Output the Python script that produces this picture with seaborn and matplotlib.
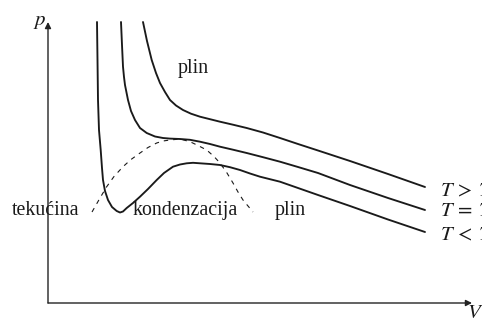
import matplotlib
matplotlib.use("Agg")
import matplotlib.pyplot as plt
import seaborn as sns
import pandas as pd

# Van der Waals isotherms on a p-V diagram (arbitrary units, origin at the axes corner)
v_below = [49, 49.5, 50, 51, 52.7, 54, 55, 57, 60, 64, 68.7, 72, 75, 78.7, 85, 92,
           100, 108.7, 116, 125, 132, 138.7, 145, 152, 162, 172, 182, 192, 202, 212,
           222, 232, 250, 270, 302, 340, 377]
p_below = [281, 243, 203, 173, 153, 135, 123, 112, 103, 96, 92, 90.5, 91.5, 95, 100, 106.3,
           114, 123, 130, 136.3, 138.5, 139.7, 140.2, 139.7, 139, 138, 135.8, 133, 129.5, 126.3,
           123.8, 121.3, 115, 108, 97, 83.5, 71]

v_crit = [73, 74, 75, 76, 77, 80, 83, 87, 92, 98.7, 107, 115, 122, 132, 142, 152, 162,
          172, 185, 198.7, 215, 232, 250, 270, 302, 340, 377]
p_crit = [281, 258, 236.3, 226, 218, 203, 192, 183, 175, 170, 166.5, 165, 164.4, 164, 163.2,
          161.3, 159, 156.3, 153.3, 150, 145.8, 141.3, 136, 130, 118, 105, 93]

v_above = [95, 99, 103.7, 108, 112, 117, 122, 128, 135, 143, 152, 162, 172, 185, 198.7,
           215, 232, 250, 270, 302, 340, 377]
p_above = [281, 262, 243, 230, 220, 211, 203, 197.5, 193, 189.3, 186.3, 183.8, 181.3, 178.3,
           175, 170.5, 165, 159, 152.5, 142, 129, 116]

# Coexistence (saturation) dome
v_dome = [44, 52, 58.7, 66, 75, 83, 92, 100, 108.7, 115, 122, 132, 142, 150, 158.7, 166,
          172, 179, 185, 190, 195, 200, 205]
p_dome = [91, 105, 116.3, 126.5, 136.3, 143.5, 150, 155.5, 160, 162, 163, 164, 161.3, 157.5,
          153, 146.5, 140, 130, 120, 111, 103, 97, 91]

curve_labels = [r"$T\:>\:T_k$", r"$T\:=\:T_k$", r"$T\:<\:T_k$"]
region_labels = ["tekućina", "kondenzacija", "plin", "plin"]

plt.rcParams["mathtext.fontset"] = "stix"
sns.set_style("white")
plt.rcParams["font.family"] = ["Liberation Serif", "DejaVu Serif"]

fig = plt.figure(figsize=(4.82, 3.22), dpi=100)
ax = fig.add_axes([0, 0, 1, 1])
ax.set_xlim(-48, 434)
ax.set_ylim(-19, 303)
ax.axis("off")

ink = "#1a1a1a"
for v, p in [(v_below, p_below), (v_crit, p_crit), (v_above, p_above)]:
    df = pd.DataFrame({"V": v, "p": p})
    sns.lineplot(data=df, x="V", y="p", sort=False, estimator=None, ax=ax,
                 color=ink, linewidth=1.35)

dome = pd.DataFrame({"V": v_dome, "p": p_dome})
sns.lineplot(data=dome, x="V", y="p", sort=False, estimator=None, ax=ax,
             color=ink, linewidth=0.8, linestyle=(0, (4, 4.5)))

# Axes with arrowheads
arrow = dict(arrowstyle="-|>", color="#222222", lw=1.0, mutation_scale=9,
             shrinkA=0, shrinkB=0)
ax.annotate("", xy=(0, 281), xytext=(0, 0), arrowprops=arrow)
ax.annotate("", xy=(424, 0), xytext=(0, 0), arrowprops=arrow)
ax.text(-15, 278, r"$p$", fontsize=15, ha="left", va="baseline", color=ink)
ax.text(419, -15, r"$V$", fontsize=15, ha="left", va="baseline", color=ink)

fs = 14.3
ax.text(-36, 88, region_labels[0], fontsize=fs, ha="left", va="baseline", color=ink)
ax.text(85, 88, region_labels[1], fontsize=fs, ha="left", va="baseline", color=ink)
ax.text(227, 88, region_labels[2], fontsize=fs, ha="left", va="baseline", color=ink)
ax.text(130, 230, region_labels[3], fontsize=fs, ha="left", va="baseline", color=ink)

# Isotherm labels run past the right edge of the figure
for lab, pb in zip(curve_labels, [107, 87, 63]):
    ax.text(392, pb, lab, fontsize=15, ha="left", va="baseline", color=ink)

fig.savefig("out.png", dpi=100)
